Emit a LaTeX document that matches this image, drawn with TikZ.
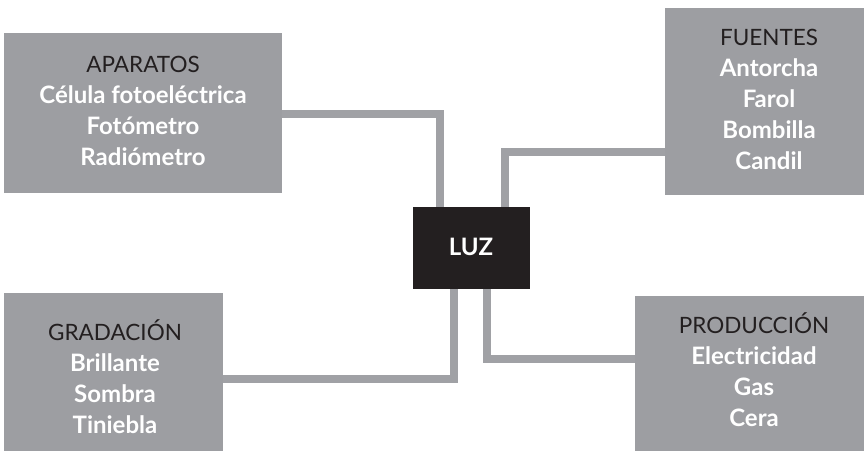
\documentclass[tikz,border=0pt]{standalone}
\usepackage{fontspec}
\setmainfont{Lato}
\definecolor{boxgray}{HTML}{9D9EA2}
\definecolor{linegray}{HTML}{A0A1A5}
\definecolor{inkblack}{HTML}{231F20}
\newcommand{\itm}[1]{\textcolor{white}{\fontsize{24}{31}\selectfont\bfseries #1}}
\begin{document}
\begin{tikzpicture}[x=1pt,y=-1pt,
  greybox/.style={fill=boxgray,draw=none,inner sep=0pt},
  centerbox/.style={fill=inkblack,draw=none,inner sep=0pt},
  boxtext/.style={align=center,font=\fontsize{22.5}{31}\selectfont,text=inkblack,inner sep=0pt},
  conn/.style={draw=linegray,line width=8pt}]
\useasboundingbox (0,0) rectangle (864,450);
% boxes
\node[greybox,minimum width=278pt,minimum height=160pt] (aparatos) at (143,113) {};
\node[greybox,minimum width=209pt,minimum height=187pt] (fuentes) at (769.5,101.5) {};
\node[greybox,minimum width=219pt,minimum height=164pt] (gradacion) at (113.5,375) {};
\node[greybox,minimum width=238pt,minimum height=164pt] (produccion) at (754,378) {};
\node[centerbox,minimum width=117pt,minimum height=82pt] (luz) at (471.5,248) {};
% connectors
\draw[conn] (aparatos.east |- 0,114) -| (luz.north -| 440,0);
\draw[conn] (luz.north -| 504.5,0) |- (fuentes.west |- 0,152);
\draw[conn] (gradacion.east |- 0,379) -| (luz.south -| 453.5,0);
\draw[conn] (luz.south -| 486.5,0) |- (produccion.west |- 0,359);
% texts
\node[boxtext] (taparatos) at (143,111) {APARATOS\\\itm{Célula fotoeléctrica}\\\itm{Fotómetro}\\\itm{Radiómetro}};
\node[boxtext] (tfuentes) at (769,99) {FUENTES\\\itm{Antorcha}\\\itm{Farol}\\\itm{Bombilla}\\\itm{Candil}};
\node[boxtext] (tgradacion) at (115,377) {GRADACIÓN\\\itm{Brillante}\\\itm{Sombra}\\\itm{Tiniebla}};
\node[boxtext] (tproduccion) at (754,370) {PRODUCCIÓN\\\itm{Electricidad}\\\itm{Gas}\\\itm{Cera}};
\node[boxtext] (tluz) at (471,247) {\itm{LUZ}};
\end{tikzpicture}
\end{document}
